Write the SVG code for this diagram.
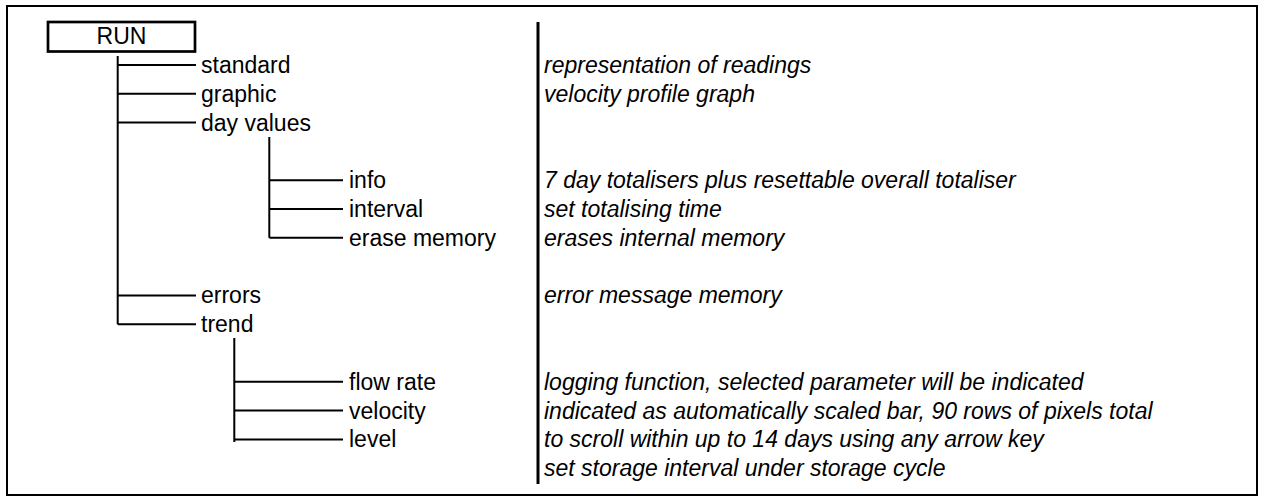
<svg xmlns="http://www.w3.org/2000/svg" width="1264" height="504" viewBox="0 0 1264 504">
<style>
.t{font-family:"Liberation Sans",Arial,sans-serif;font-size:23px;fill:#000}
.d{font-family:"Liberation Sans",Arial,sans-serif;font-size:23px;font-style:italic;fill:#000}
.c{stroke:#000;stroke-width:2;fill:none}
</style>
<rect x="7" y="6" width="1250" height="489" fill="#fff" stroke="#000" stroke-width="2"/>
<g id="connectors">
<path class="c" d="M117.7 56V324.2M117.7 65H196M117.7 93.8H196M117.7 122.6H196M117.7 295.4H196M117.7 324.2H196"/>
<path class="c" d="M269.3 137V237.8M269.3 180.2H343M269.3 209H343M269.3 237.8H343"/>
<path class="c" d="M234.3 338V442M234.3 381.8H343M234.3 410.6H343M234.3 439.4H343"/>
<line x1="538" y1="22" x2="538" y2="484" stroke="#000" stroke-width="3"/>
</g>
<g id="run"><rect x="48" y="22" width="147" height="29.5" fill="#fff" stroke="#000" stroke-width="2.7"/><text class="t" x="121.5" y="44" text-anchor="middle">RUN</text></g>
<g id="standard"><text class="t" x="201" y="73">standard</text><text class="d" x="544" y="73">representation of readings</text></g>
<g id="graphic"><text class="t" x="201" y="101.8">graphic</text><text class="d" x="544" y="101.8">velocity profile graph</text></g>
<g id="dayvalues"><text class="t" x="201" y="130.6">day values</text></g>
<g id="info"><text class="t" x="349" y="188.2">info</text><text class="d" x="544" y="188.2">7 day totalisers plus resettable overall totaliser</text></g>
<g id="interval"><text class="t" x="349" y="217">interval</text><text class="d" x="544" y="217">set totalising time</text></g>
<g id="erase"><text class="t" x="349" y="245.8">erase memory</text><text class="d" x="544" y="245.8">erases internal memory</text></g>
<g id="errors"><text class="t" x="201" y="303.4">errors</text><text class="d" x="544" y="303.4">error message memory</text></g>
<g id="trend"><text class="t" x="201" y="332.2">trend</text></g>
<g id="flowrate"><text class="t" x="349" y="389.8">flow rate</text><text class="d" x="544" y="389.8">logging function, selected parameter will be indicated</text></g>
<g id="velocity"><text class="t" x="349" y="418.6">velocity</text><text class="d" x="544" y="418.6">indicated as automatically scaled bar, 90 rows of pixels total</text></g>
<g id="level"><text class="t" x="349" y="447.4">level</text><text class="d" x="544" y="447.4">to scroll within up to 14 days using any arrow key</text></g>
<g id="storage"><text class="d" x="544" y="476.2">set storage interval under storage cycle</text></g>
</svg>
